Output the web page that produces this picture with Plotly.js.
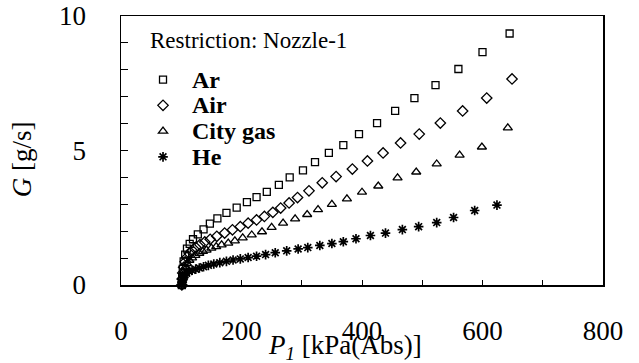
<!DOCTYPE html>
<html>
<head>
<meta charset="utf-8">
<script src="https://cdn.plot.ly/plotly-3.0.1.min.js"></script>
<style>html,body{margin:0;padding:0;background:#fff;}#chart{width:639px;height:363px;}</style>
</head>
<body>
<div id="chart"></div>
<script>
// P1 [kPa(Abs)] and G [g/s] for each gas
const arP = [101, 101.5, 102.5, 104, 106.5, 109.5, 114, 119.5, 127.5, 137, 147.5, 160, 175, 192, 209, 225, 242, 262, 280, 302, 322, 345, 369, 395, 425, 455, 487, 522, 560, 600, 645];
const arG = [0, 0.3, 0.6, 0.88, 1.13, 1.35, 1.53, 1.7, 1.88, 2.07, 2.28, 2.48, 2.68, 2.88, 3.08, 3.27, 3.46, 3.72, 4.0, 4.26, 4.57, 4.91, 5.2, 5.61, 6.02, 6.47, 6.95, 7.43, 8.03, 8.66, 9.35];

const airP = [101, 101.5, 102.5, 104, 106.5, 109.5, 113.5, 118, 124, 131, 139, 148, 159, 172, 185, 198, 211, 225, 238, 252, 265, 279, 293, 312, 334, 357, 384, 409, 435, 464, 495, 530, 567, 607, 649];
const airG = [0, 0.22, 0.45, 0.66, 0.86, 1.03, 1.17, 1.29, 1.4, 1.5, 1.6, 1.7, 1.81, 1.93, 2.05, 2.17, 2.3, 2.42, 2.55, 2.7, 2.86, 3.05, 3.25, 3.5, 3.8, 4.03, 4.31, 4.61, 4.91, 5.28, 5.61, 6.02, 6.47, 6.95, 7.66];

const cityP = [101, 101.5, 102.5, 104, 106.5, 109.5, 113.5, 118, 123.5, 130, 136, 142, 150, 158, 167, 178, 189, 202, 217, 234, 250, 269, 289, 309, 327, 350, 375, 400, 427, 459, 490, 524, 562, 599, 642];
const cityG = [0, 0.17, 0.34, 0.5, 0.66, 0.8, 0.92, 1.01, 1.1, 1.18, 1.25, 1.3, 1.37, 1.43, 1.49, 1.56, 1.64, 1.75, 1.86, 1.98, 2.14, 2.3, 2.46, 2.62, 2.8, 3.0, 3.2, 3.45, 3.68, 3.98, 4.2, 4.5, 4.83, 5.13, 5.84];

const heP = [101, 101.5, 102.5, 104, 106, 109, 113, 118, 124, 130, 137, 145, 154, 164, 175, 186, 198, 211, 225, 240, 256, 275, 294, 310, 330, 350, 369, 390, 414, 439, 467, 494, 524, 552, 587, 624];
const heG = [0, 0.1, 0.2, 0.29, 0.37, 0.44, 0.5, 0.55, 0.59, 0.63, 0.68, 0.73, 0.78, 0.83, 0.88, 0.93, 0.97, 1.02, 1.07, 1.13, 1.2, 1.27, 1.34, 1.39, 1.47, 1.54, 1.61, 1.72, 1.84, 1.93, 2.06, 2.17, 2.32, 2.51, 2.77, 2.97];

const seriesNames = ["Ar", "Air", "City gas", "He"];
const legendTitle = "Restriction: Nozzle-1";
const xTitle = "<i>P</i><sub><i>1</i></sub> [kPa(Abs)]";
const yTitle = "<i>G</i> [g/s]";

const FONT = "Liberation Serif, serif";

function mk(x, y, name, symbol, size, lw) {
  return {
    x: x, y: y, name: name, type: "scatter", mode: "markers",
    marker: {symbol: symbol, size: size, color: "#000", line: {color: "#000", width: lw}},
    cliponaxis: false
  };
}

const data = [
  mk(arP, arG, seriesNames[0], "square-open", 7, 1.3),
  mk(airP, airG, seriesNames[1], "diamond-open", 8, 1.3),
  mk(cityP, cityG, seriesNames[2], "triangle-up-open", 8, 1.3),
  mk(heP, heG, seriesNames[3], "asterisk-open", 8, 1.7)
];

const layout = {
  width: 639, height: 363,
  margin: {l: 121, r: 36, t: 16, b: 78},
  paper_bgcolor: "#fff", plot_bgcolor: "#fff",
  font: {family: FONT, color: "#000", size: 18},
  showlegend: true,
  legend: {
    x: 0.027, y: 0.83, xanchor: "left", yanchor: "top",
    bgcolor: "rgba(0,0,0,0)", borderwidth: 0,
    itemwidth: 48,
    font: {family: FONT, size: 17.5, color: "#000", weight: "bold"}
  },
  xaxis: {
    range: [0, 800], dtick: 200, tick0: 0,
    showline: true, linecolor: "#000", linewidth: 1.5, mirror: true,
    ticks: "inside", ticklen: 5, tickcolor: "#000", tickwidth: 1,
    minor: {dtick: 100, ticks: "inside", ticklen: 5, tickcolor: "#000", tickwidth: 1},
    showgrid: false, zeroline: false,
    tickfont: {family: FONT, size: 27},
    ticklabelstandoff: 21
  },
  yaxis: {
    range: [0, 10], dtick: 5, tick0: 0,
    showline: true, linecolor: "#000", linewidth: 1.5, mirror: true,
    ticks: "inside", ticklen: 7, tickcolor: "#000", tickwidth: 1,
    minor: {dtick: 1, ticks: "inside", ticklen: 7, tickcolor: "#000", tickwidth: 1},
    showgrid: false, zeroline: false,
    tickfont: {family: FONT, size: 27},
    ticklabelstandoff: 28
  },
  annotations: [
    {text: legendTitle, xref: "paper", yref: "paper", x: 0.056, y: (285 - 41) / 269, xanchor: "left", yanchor: "middle",
     showarrow: false, font: {family: FONT, size: 23}},
    {text: xTitle, xref: "paper", yref: "paper", x: 0.464, y: -0.232, xanchor: "center", yanchor: "middle",
     showarrow: false, font: {family: FONT, size: 27}},
    {text: yTitle, xref: "paper", yref: "paper", x: -0.205, y: 0.468, xanchor: "center", yanchor: "middle",
     showarrow: false, textangle: -90, font: {family: FONT, size: 27}}
  ]
};

Plotly.newPlot("chart", data, layout, {displayModeBar: false, staticPlot: true}).then(function () {
  // enlarge legend labels without changing the row spacing, and let them overflow the legend box
  document.querySelectorAll("#chart .legend [clip-path], #chart .legend").forEach(function (e) {
    e.removeAttribute("clip-path");
  });
  document.querySelectorAll("#chart .legendtext").forEach(function (t) {
    t.style.fontSize = "24px";
    t.setAttribute("y", "8");
  });
});
</script>
</body>
</html>
